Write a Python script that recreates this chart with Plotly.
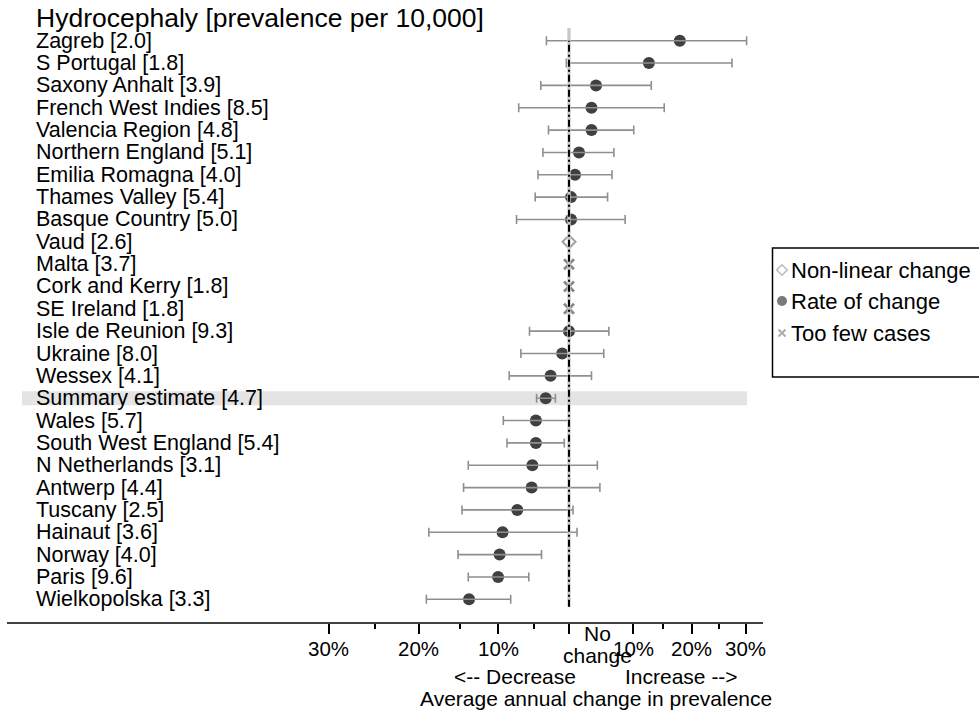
import numpy as np
import plotly.graph_objects as go

# ---- data -------------------------------------------------------------
regions = ["Zagreb", "S Portugal", "Saxony Anhalt", "French West Indies",
           "Valencia Region", "Northern England", "Emilia Romagna",
           "Thames Valley", "Basque Country", "Vaud", "Malta",
           "Cork and Kerry", "SE Ireland", "Isle de Reunion", "Ukraine",
           "Wessex", "Summary estimate", "Wales", "South West England",
           "N Netherlands", "Antwerp", "Tuscany", "Hainaut", "Norway",
           "Paris", "Wielkopolska"]
prevalence = [2.0, 1.8, 3.9, 8.5, 4.8, 5.1, 4.0, 5.4, 5.0, 2.6, 3.7, 1.8,
              1.8, 9.3, 8.0, 4.1, 4.7, 5.7, 5.4, 3.1, 4.4, 2.5, 3.6, 4.0,
              9.6, 3.3]
status = ["rate", "rate", "rate", "rate", "rate", "rate", "rate", "rate",
          "rate", "nonlinear", "few", "few", "few", "rate", "rate", "rate",
          "rate", "rate", "rate", "rate", "rate", "rate", "rate", "rate",
          "rate", "rate"]
# average annual change in prevalence, % (estimate, lower, upper)
change_est = [17.9, 12.6, 4.1, 3.4, 3.4, 1.5, 0.9, 0.3, 0.3, 0.0, 0.0, 0.0,
              0.0, 0.0, -1.0, -2.7, -3.4, -4.8, -4.8, -5.3, -5.4, -7.4,
              -9.4, -9.8, -10.0, -13.8]
change_lo = [-3.3, -0.4, -4.1, -7.2, -3.0, -3.8, -4.5, -4.9, -7.5, None,
             None, None, None, -5.7, -6.9, -8.5, -4.7, -9.3, -8.8, -13.9,
             -14.5, -14.7, -18.8, -15.2, -13.9, -19.1]
change_hi = [30.2, 27.4, 13.0, 15.2, 10.1, 6.9, 6.6, 5.9, 8.7, None, None,
             None, None, 6.1, 5.3, 3.4, -2.0, 0.0, -0.7, 4.3, 4.7, 0.6, 1.2,
             -4.0, -5.8, -8.3]
summary_name = "Summary estimate"

major_ticks = [-30, -20, -10, 0, 10, 20, 30]
major_labels = ["30%", "20%", "10%", "", "10%", "20%", "30%"]
minor_ticks = [-25, -15, -5, 15, 25]

title_text = "Hydrocephaly [prevalence per 10,000]"
legend_labels = ["Non-linear change", "Rate of change", "Too few cases"]

# ---- geometry helpers ------------------------------------------------
W, H = 979, 711
T, B = 20, 623            # top / bottom of the plotting region (px)
AX_L, AX_R = 7, 763       # extent of the drawn x-axis line (px)
X0_PX, PX_PER_UNIT = 569, 673   # "no change" position and log-scale factor
FONT = "Liberation Sans, Arial, sans-serif"


def px_x(p):
    return p / W


def px_y(p):
    return (B - p) / (B - T)


def logratio(pct):
    return np.log1p(np.asarray(pct, dtype=float) / 100.0)


n = len(regions)
ypos = np.arange(n)[::-1].astype(float)      # top row = n-1
xe = logratio(change_est)

rate_idx = [i for i, s in enumerate(status) if s == "rate"]
nl_idx = [i for i, s in enumerate(status) if s == "nonlinear"]
few_idx = [i for i, s in enumerate(status) if s == "few"]

fig = go.Figure()

# filled circles for estimated rates of change
fig.add_trace(go.Scatter(
    x=xe[rate_idx], y=ypos[rate_idx], mode="markers",
    marker=dict(symbol="circle", size=12, color="#404040", line=dict(width=0)),
    showlegend=False, hoverinfo="skip"))

# confidence intervals, drawn over the circles
lo = logratio([change_lo[i] for i in rate_idx])
hi = logratio([change_hi[i] for i in rate_idx])
fig.add_trace(go.Scatter(
    x=xe[rate_idx], y=ypos[rate_idx], mode="markers",
    marker=dict(size=1, opacity=0),
    error_x=dict(type="data", symmetric=False,
                 array=hi - xe[rate_idx], arrayminus=xe[rate_idx] - lo,
                 color="#8f8f8f", thickness=1.6, width=4.5),
    showlegend=False, hoverinfo="skip"))

# non-linear change
fig.add_trace(go.Scatter(
    x=xe[nl_idx], y=ypos[nl_idx], mode="markers",
    marker=dict(symbol="diamond-open", size=10, color="#a0a0a0",
                line=dict(width=2, color="#a0a0a0")),
    showlegend=False, hoverinfo="skip"))

# too few cases
fig.add_trace(go.Scatter(
    x=xe[few_idx], y=ypos[few_idx], mode="markers",
    marker=dict(symbol="x-thin", size=10, color="#8a8a8a",
                line=dict(width=2.8, color="#8a8a8a")),
    showlegend=False, hoverinfo="skip"))

# legend keys on a pixel-based overlay axis
leg_y = [270, 301, 333]
fig.add_trace(go.Scatter(
    x=[782, 782, 782], y=leg_y, mode="markers", xaxis="x2", yaxis="y2",
    marker=dict(symbol=["diamond-open", "circle", "x-thin"], size=[8, 10, 7],
                color=["#a0a0a0", "#404040", "#8a8a8a"],
                line=dict(width=[1.6, 0, 2], color=["#a0a0a0", "#404040", "#8a8a8a"])),
    showlegend=False, hoverinfo="skip"))

shapes = []
# highlight band behind the summary row
s_i = regions.index(summary_name)
shapes.append(dict(type="rect", xref="paper", yref="y",
                   x0=px_x(22), x1=px_x(747),
                   y0=ypos[s_i] - 0.31, y1=ypos[s_i] + 0.31,
                   fillcolor="#e4e4e4", line=dict(width=0), layer="below"))
# no-change reference line
shapes.append(dict(type="line", xref="x", yref="y", x0=0, x1=0,
                   y0=-0.33, y1=n - 1 + 0.57,
                   line=dict(color="#c8c8c8", width=3.3), layer="above"))
shapes.append(dict(type="line", xref="x", yref="y", x0=0, x1=0,
                   y0=-0.33, y1=n - 1,
                   line=dict(color="black", width=2, dash="7px,3px,2px,3px"),
                   layer="above"))
# x-axis baseline
shapes.append(dict(type="line", xref="paper", yref="paper",
                   x0=px_x(AX_L), x1=px_x(AX_R), y0=0, y1=0,
                   line=dict(color="black", width=1.5)))
# legend frame
shapes.append(dict(type="rect", xref="paper", yref="paper",
                   x0=px_x(772.5), x1=px_x(990), y0=px_y(377), y1=px_y(248),
                   line=dict(color="black", width=1.5), fillcolor="rgba(0,0,0,0)"))

ann = []
ann.append(dict(text=title_text, xref="paper", yref="paper",
                x=px_x(34), y=px_y(18), xanchor="left", yanchor="middle",
                showarrow=False, font=dict(size=26.5, color="black", family=FONT)))
for i in range(n):
    ann.append(dict(text=f"{regions[i]} [{prevalence[i]:.1f}]",
                    xref="paper", yref="y", x=px_x(34), y=ypos[i],
                    xanchor="left", yanchor="middle", showarrow=False,
                    font=dict(size=21.5, color="black", family=FONT)))
# tick labels
for t, lab in zip(major_ticks, major_labels):
    if lab:
        ann.append(dict(text=lab, xref="x", yref="paper", x=float(logratio(t)),
                        y=px_y(648.5), xanchor="center", yanchor="middle",
                        showarrow=False,
                        font=dict(size=20.5, color="black", family=FONT)))
axis_font = dict(size=21, color="black", family=FONT)
ann.append(dict(text="No", xref="paper", yref="paper", x=px_x(597),
                y=px_y(633.5), xanchor="center", yanchor="middle",
                showarrow=False, font=axis_font))
ann.append(dict(text="change", xref="paper", yref="paper", x=px_x(597),
                y=px_y(655), xanchor="center", yanchor="middle",
                showarrow=False, font=axis_font))
ann.append(dict(text="<-- Decrease", xref="paper", yref="paper", x=px_x(515),
                y=px_y(676.5), xanchor="center", yanchor="middle",
                showarrow=False, font=axis_font))
ann.append(dict(text="Increase -->", xref="paper", yref="paper", x=px_x(681),
                y=px_y(676.5), xanchor="center", yanchor="middle",
                showarrow=False, font=axis_font))
ann.append(dict(text="Average annual change in prevalence", xref="paper",
                yref="paper", x=px_x(596), y=px_y(698.5), xanchor="center",
                yanchor="middle", showarrow=False, font=axis_font))
# legend entries
for lab, ly in zip(legend_labels, leg_y):
    ann.append(dict(text=lab, xref="paper", yref="paper", x=px_x(789),
                    y=px_y(ly), xanchor="left", yanchor="middle",
                    showarrow=False,
                    font=dict(size=22, color="black", family=FONT)))

fig.update_layout(
    width=W, height=H,
    margin=dict(l=0, r=0, t=T, b=H - B, pad=0),
    paper_bgcolor="white", plot_bgcolor="white",
    font=dict(family=FONT, size=20, color="black"),
    xaxis=dict(range=[(0 - X0_PX) / PX_PER_UNIT, (W - X0_PX) / PX_PER_UNIT],
               showgrid=False, zeroline=False, showline=False,
               tickmode="array", tickvals=logratio(major_ticks).tolist(),
               ticks="outside", ticklen=10, tickwidth=1.5, tickcolor="black",
               showticklabels=False,
               minor=dict(tickmode="array",
                          tickvals=logratio(minor_ticks).tolist(),
                          ticks="outside", ticklen=5, tickwidth=1.5,
                          tickcolor="black", showgrid=False)),
    yaxis=dict(range=[-1.061, n - 1 + 0.927], visible=False, showgrid=False,
               zeroline=False),
    xaxis2=dict(range=[0, W], overlaying="x", visible=False),
    yaxis2=dict(range=[B, T], overlaying="y", visible=False),
    shapes=shapes, annotations=ann, showlegend=False,
)

fig.write_html("out.html")
